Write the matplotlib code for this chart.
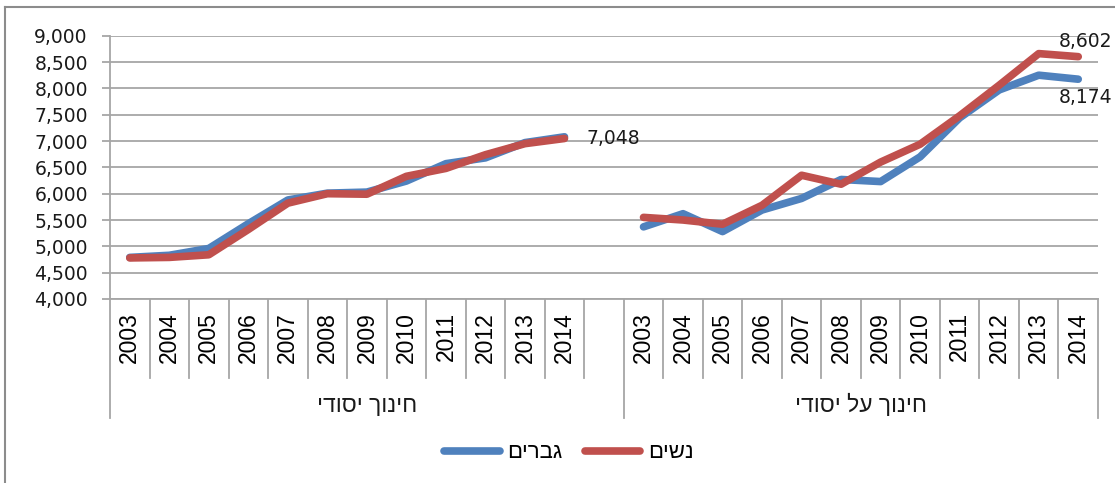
import matplotlib
matplotlib.use("Agg")
import matplotlib.pyplot as plt
from matplotlib.lines import Line2D

# שכר לפי שנה - נתונים
years = ["2003", "2004", "2005", "2006", "2007", "2008", "2009", "2010", "2011", "2012", "2013", "2014"]
groups = ["חינוך יסודי", "חינוך על יסודי"]
series_names = ["גברים", "נשים"]

men_basic = [4790, 4830, 4960, 5430, 5880, 6010, 6030, 6240, 6570, 6680, 6970, 7080]
women_basic = [4780, 4790, 4840, 5320, 5820, 6000, 5990, 6330, 6480, 6740, 6950, 7048]
men_high = [5370, 5620, 5280, 5690, 5910, 6270, 6230, 6700, 7440, 7970, 8250, 8174]
women_high = [5550, 5500, 5420, 5780, 6350, 6180, 6600, 6940, 7480, 8060, 8660, 8602]

blue = "#4F81BD"
red = "#C0504D"
grid_c = "#A6A6A6"


def rtl(s):
    # matplotlib אין תמיכה בכיווניות - הופכים את סדר האותיות
    return s[::-1]


heb_font = ["Liberation Sans", "DejaVu Sans"]

fig = plt.figure(figsize=(11.15, 4.83), dpi=100)
ax = fig.add_axes([110 / 1115, 1 - 299 / 483, 988 / 1115, 263.3 / 483])

n = len(years)
x_left = list(range(n))
x_right = [i + n + 1 for i in range(n)]

lw = 5.5
kw = dict(linewidth=lw, solid_capstyle="round", solid_joinstyle="round")
ax.plot(x_left, men_basic, color=blue, **kw)
ax.plot(x_right, men_high, color=blue, **kw)
ax.plot(x_left, women_basic, color=red, **kw)
ax.plot(x_right, women_high, color=red, **kw)

ax.set_xlim(-0.5, 2 * n + 0.5)
ax.set_ylim(4000, 9000)
ax.set_yticks(range(4000, 9001, 500))
ax.set_yticklabels([f"{v:,}" for v in range(4000, 9001, 500)])
ax.yaxis.grid(True, color=grid_c, linewidth=1.3)
ax.set_axisbelow(True)
ax.tick_params(axis="y", length=6, width=1.3, color=grid_c, pad=10, labelsize=13.5, labelcolor="#1a1a1a")

ax.set_xticks(x_left + x_right)
ax.set_xticklabels(years + years, rotation=90, family="Liberation Sans", fontsize=16.5)
ax.tick_params(axis="x", length=0, pad=9.5)

for s in ["top", "right"]:
    ax.spines[s].set_visible(False)
ax.spines["left"].set_color(grid_c)
ax.spines["bottom"].set_color(grid_c)
ax.spines["left"].set_linewidth(1.3)
ax.spines["bottom"].set_linewidth(1.3)

# קווי הפרדה בציר הקטגוריות
tr = ax.get_xaxis_transform()
inner = [i + 0.5 for i in range(n)] + [i + n + 1.5 for i in range(n - 1)]
for b in inner:
    ax.plot([b, b], [0, -0.30], transform=tr, color=grid_c, lw=1.3, clip_on=False)
for b in [-0.5, n + 0.5, 2 * n + 0.5]:
    ax.plot([b, b], [0, -0.452], transform=tr, color=grid_c, lw=1.3, clip_on=False)

ax.text(n / 2, -0.403, rtl(groups[0]), transform=tr, ha="center", va="center",
        family=heb_font, fontsize=16.5, color="#1a1a1a")
ax.text(n + 1 + (n - 1) / 2, -0.403, rtl(groups[1]), transform=tr, ha="center", va="center",
        family=heb_font, fontsize=16.5, color="#1a1a1a")

# תוויות נתונים
ax.annotate(f"{women_basic[-1]:,}", (x_left[-1], women_basic[-1]), xytext=(16, 0),
            textcoords="offset points", va="center", ha="left", fontsize=13.5, color="#1a1a1a")
ax.annotate(f"{women_high[-1]:,}", (x_right[-1], women_high[-1]), xytext=(-14, 11),
            textcoords="offset points", va="center", ha="left", fontsize=13.5, color="#1a1a1a",
            annotation_clip=False)
ax.annotate(f"{men_high[-1]:,}", (x_right[-1], men_high[-1]), xytext=(-14, -13),
            textcoords="offset points", va="center", ha="left", fontsize=13.5, color="#1a1a1a",
            annotation_clip=False)

handles = [Line2D([], [], color=blue, **kw), Line2D([], [], color=red, **kw)]
fig.legend(handles, [rtl(s) for s in series_names], loc="center", bbox_to_anchor=(569 / 1115, 1 - 453 / 483),
           ncol=2, frameon=False, handlelength=2.5, handletextpad=0.35, columnspacing=1.0,
           prop={"family": heb_font, "size": 16})

# מסגרת התרשים
fig.add_artist(Line2D([5 / 1115, 5 / 1115], [0, 1 - 7 / 483], color="#8C8C8C", lw=1.5))
fig.add_artist(Line2D([5 / 1115, 1], [1 - 7 / 483, 1 - 7 / 483], color="#8C8C8C", lw=1.5))

fig.savefig("out.png", dpi=100)
